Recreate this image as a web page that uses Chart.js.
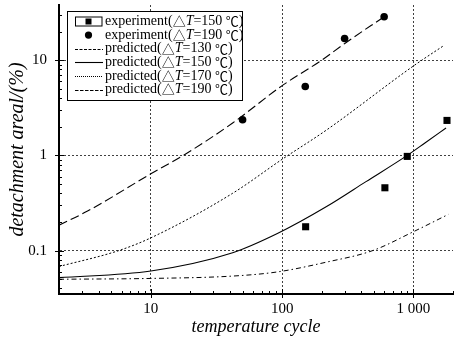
<!DOCTYPE html>
<html><head><meta charset="utf-8">
<script src="https://cdn.jsdelivr.net/npm/chart.js@4/dist/chart.umd.min.js"></script>
<style>html,body{margin:0;padding:0;background:#fff;overflow:hidden}canvas{display:block}</style>
</head><body>
<canvas id="c" width="458" height="339"></canvas>
<script>
// ---- data ----
const xTickValues = [10, 100, 1000];
const xTickLabels = ['10', '100', '1 000'];
const yTickValues = [0.1, 1, 10];
const yTickLabels = ['0.1', '1', '10'];
const xTitle = 'temperature cycle';
const yTitle = 'detachment areal/(%)';

const exp150Cycles = [151, 606, 897, 1800];
const exp150Area   = [0.178, 0.457, 0.976, 2.33];
const exp190Cycles = [50, 150, 299, 598];
const exp190Area   = [2.37, 5.3, 16.9, 28.6];

const pred130Cycles = [2, 10, 42, 92, 218, 489, 1000, 1843];
const pred130Area   = [0.050, 0.051, 0.054, 0.0597, 0.0757, 0.1, 0.158, 0.24];
const pred150Cycles = [2, 10, 42, 92, 218, 435, 897, 1230, 1770];
const pred150Area   = [0.052, 0.061, 0.095, 0.151, 0.29, 0.53, 1.0, 1.36, 1.94];
const pred170Cycles = [2, 5.7, 10, 42, 100, 218, 1000, 1710];
const pred170Area   = [0.068, 0.1, 0.136, 0.40, 0.91, 1.85, 8.7, 14.3];
const pred190Cycles = [2, 3.3, 10, 17.7, 42, 100, 200, 300, 598];
const pred190Area   = [0.185, 0.26, 0.64, 1.0, 2.19, 5.4, 10, 15, 28.6];

const legendPrefixes = ['experiment', 'experiment', 'predicted', 'predicted', 'predicted', 'predicted'];
const legendTemps = ['150', '190', '130', '150', '170', '190'];

// ---- build ----
const pts = (xs, ys) => xs.map((v, i) => ({x: v, y: ys[i]}));
const SERIF = '"Liberation Serif", "Times New Roman", "DejaVu Serif", serif';
const LEGF = '"Liberation Serif", "Noto Sans CJK SC", serif';

const curveStyle = (dash, w) => ({
  type: 'line', showLine: true, borderColor: '#000', borderWidth: w, borderDash: dash,
  pointRadius: 0, fill: false, cubicInterpolationMode: 'monotone', tension: 0.4
});

const datasets = [
  Object.assign({label: 'p130', data: pts(pred130Cycles, pred130Area)}, curveStyle([5, 3, 1.5, 3], 1)),
  Object.assign({label: 'p150', data: pts(pred150Cycles, pred150Area)}, curveStyle([], 1.1)),
  Object.assign({label: 'p170', data: pts(pred170Cycles, pred170Area)}, curveStyle([2, 2], 1)),
  Object.assign({label: 'p190', data: pts(pred190Cycles, pred190Area)}, curveStyle([9, 4], 1.1)),
  {label: 'e150', type: 'scatter', data: pts(exp150Cycles, exp150Area), pointStyle: 'rect',
   pointRadius: 5, backgroundColor: '#000', borderColor: '#000', borderWidth: 0, showLine: false},
  {label: 'e190', type: 'scatter', data: pts(exp190Cycles, exp190Area), pointStyle: 'circle',
   pointRadius: 3.8, backgroundColor: '#000', borderColor: '#000', borderWidth: 0, showLine: false}
];

const legendSymbols = [
  {kind: 'rect'}, {kind: 'circle'},
  {kind: 'line', dash: [3, 1.5], w: 1},
  {kind: 'line', dash: [], w: 1.1},
  {kind: 'line', dash: [1, 1], w: 1},
  {kind: 'line', dash: [3.5, 1.5], w: 1}
];

const extras = {
  id: 'extras',
  afterDraw(chart) {
    const {ctx, chartArea: a, scales: {x, y}} = chart;
    ctx.save();
    ctx.strokeStyle = '#000';
    ctx.lineWidth = 1;
    ctx.setLineDash([]);
    for (let d = 1; d <= 1000; d *= 10) {
      for (let m = 1; m <= 9; m++) {
        const v = m * d;
        if (v < x.min || v > x.max) continue;
        const px = Math.round(x.getPixelForValue(v)) + 0.5;
        const len = m === 1 ? 5 : 3;
        ctx.beginPath();
        ctx.moveTo(px, a.bottom + (m === 1 ? 4 : 0));
        ctx.lineTo(px, a.bottom - len);
        ctx.stroke();
      }
    }
    for (let d = 0.01; d <= 10.0001; d *= 10) {
      for (let m = 1; m <= 9; m++) {
        const v = m * d;
        if (v < y.min || v > y.max) continue;
        const py = Math.round(y.getPixelForValue(v)) + 0.5;
        const len = m === 1 ? 5 : 3;
        ctx.beginPath();
        ctx.moveTo(a.left - (m === 1 ? 4 : 0), py);
        ctx.lineTo(a.left + len, py);
        ctx.stroke();
      }
    }
    const bx = 67.5, by = 11.5, bw = 175, bh = 89;
    ctx.fillStyle = '#fff';
    ctx.fillRect(bx, by, bw, bh);
    ctx.strokeRect(bx, by, bw, bh);
    const rowY0 = 21.5, rowH = 13.6;
    ctx.textBaseline = 'middle';
    ctx.textAlign = 'left';
    for (let i = 0; i < legendPrefixes.length; i++) {
      const cy = rowY0 + i * rowH;
      const s = legendSymbols[i];
      ctx.fillStyle = '#000';
      ctx.strokeStyle = '#000';
      if (s.kind === 'rect') {
        ctx.lineWidth = 1;
        ctx.strokeRect(75.5, cy - 4.5, 26.5, 9);
        ctx.fillRect(85.5, cy - 3, 6, 6);
      } else if (s.kind === 'circle') {
        ctx.beginPath();
        ctx.arc(88.5, cy, 3.6, 0, Math.PI * 2);
        ctx.fill();
      } else {
        ctx.lineWidth = s.w;
        ctx.setLineDash(s.dash);
        ctx.beginPath();
        ctx.moveTo(75, Math.round(cy) + 0.5);
        ctx.lineTo(103, Math.round(cy) + 0.5);
        ctx.stroke();
        ctx.setLineDash([]);
      }
      let tx = 105;
      const parts = [
        [legendPrefixes[i] + '(', '14px ' + SERIF],
        ['\u25B3', '13px "Noto Sans CJK SC", ' + SERIF],
        ['T', 'italic 14px ' + SERIF],
        ['=' + legendTemps[i] + ' ', '14px ' + SERIF],
        ['\u2103', '13px "Noto Sans CJK SC", ' + SERIF],
        [')', '14px ' + SERIF]
      ];
      for (const [t, f] of parts) {
        ctx.font = f;
        ctx.fillText(t, tx, cy);
        tx += ctx.measureText(t).width;
      }
    }
    ctx.restore();
  }
};

new Chart(document.getElementById('c'), {
  type: 'scatter',
  data: {datasets},
  options: {
    responsive: false,
    animation: false,
    devicePixelRatio: 1,
    layout: {padding: 0},
    plugins: {legend: {display: false}, tooltip: {enabled: false}},
    scales: {
      x: {
        type: 'logarithmic', position: 'bottom', min: 2, max: 2000,
        afterBuildTicks: s => { s.ticks = xTickValues.map(v => ({value: v})); },
        afterFit: s => { s.height = 45; s.paddingLeft = 0; s.paddingRight = 0; },
        grid: {color: 'rgba(0,0,0,0.75)', lineWidth: 1, drawTicks: false},
        border: {display: true, color: '#000', width: 2, dash: [2, 2]},
        ticks: {
          color: '#000', padding: 6, maxRotation: 0, autoSkip: false,
          font: {family: SERIF, size: 15},
          callback: v => { const i = xTickValues.indexOf(v); return i >= 0 ? xTickLabels[i] : ''; }
        },
        title: {display: true, text: xTitle, color: '#000',
          font: {family: SERIF, size: 18, style: 'italic', lineHeight: 1},
          padding: {top: 0, bottom: 3}}
      },
      y: {
        type: 'logarithmic', position: 'left', min: 0.035, max: 38,
        afterBuildTicks: s => { s.ticks = yTickValues.map(v => ({value: v})); },
        afterFit: s => { s.width = 59; s.paddingTop = 0; s.paddingBottom = 0; },
        grid: {color: 'rgba(0,0,0,0.75)', lineWidth: 1, drawTicks: false},
        border: {display: true, color: '#000', width: 2, dash: [2, 2]},
        ticks: {
          color: '#000', padding: 12, autoSkip: false,
          font: {family: SERIF, size: 15},
          callback: v => { const i = yTickValues.indexOf(v); return i >= 0 ? yTickLabels[i] : ''; }
        },
        title: {display: true, text: yTitle, color: '#000',
          font: {family: SERIF, size: 20, style: 'italic', lineHeight: 1},
          padding: {top: 8, bottom: 0}}
      }
    }
  },
  plugins: [extras]
});
</script>
</body></html>
